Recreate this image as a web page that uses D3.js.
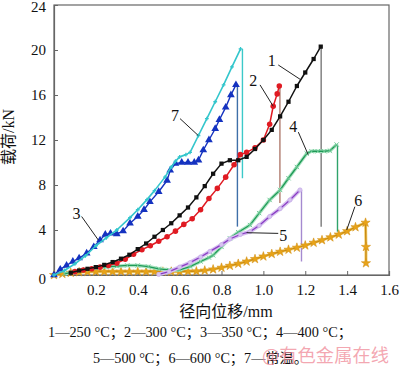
<!DOCTYPE html>
<html><head><meta charset="utf-8">
<script src="https://cdn.jsdelivr.net/npm/d3@7/dist/d3.min.js"></script>
<style>body{margin:0;background:#fff}svg{display:block}
.srf{font-family:"Liberation Serif","DejaVu Serif",serif}
.cjk{font-family:"Liberation Serif","Noto Sans CJK SC",serif}
</style>
</head><body>
<script>
// ---- data ----
const xTicks = [0.2,0.4,0.6,0.8,1.0,1.2,1.4,1.6];
const yTicks = [0,4,8,12,16,20,24];

// 1 — 250 °C (black squares)
const x1 = [0.08,0.12,0.16,0.2,0.24,0.28,0.32,0.36,0.4,0.44,0.48,0.52,0.56,0.6,0.64,0.68,0.72,0.76,0.8,0.84,0.88,0.92,0.96,1.0,1.04,1.08,1.12,1.16,1.2,1.24,1.274];
const y1 = [0.2,0.4,0.55,0.7,0.9,1.15,1.45,1.8,2.3,2.8,3.4,4.0,4.6,5.3,6.0,6.9,7.9,9.0,9.9,10.2,10.2,10.5,11.2,12.0,12.9,14.1,15.4,16.8,18.0,19.2,20.3];
// 2 — 300 °C (red circles)
const x2 = [0.1,0.14,0.18,0.22,0.26,0.3,0.34,0.38,0.42,0.46,0.5,0.54,0.58,0.62,0.66,0.7,0.74,0.78,0.82,0.86,0.89,0.92,0.96,1.0,1.03,1.047,1.066,1.076];
const y2 = [0.3,0.45,0.55,0.7,0.85,1.05,1.4,1.85,2.25,2.6,3.0,3.4,3.9,4.5,5.0,5.8,6.8,7.7,8.7,9.8,10.7,10.9,11.3,12.0,13.4,15.0,16.1,16.8];
// 3 — 350 °C (blue triangles)
const x3 = [0,0.03,0.06,0.09,0.12,0.156,0.19,0.22,0.245,0.27,0.3,0.33,0.363,0.4,0.43,0.458,0.5,0.54,0.555,0.58,0.61,0.64,0.67,0.69,0.713,0.74,0.77,0.79,0.82,0.845,0.869];
const y3 = [0,0.5,0.85,1.2,1.5,1.93,2.5,3.1,3.6,3.7,3.65,3.9,4.6,5.2,5.8,6.5,7.4,8.4,9.3,9.9,10.0,10.0,10.0,10.2,11.1,12.0,13.0,13.8,14.9,16.0,16.9];
// 4 — 400 °C (green)
const x4 = [0.05,0.1,0.15,0.2,0.25,0.3,0.35,0.4,0.45,0.5,0.55,0.6,0.65,0.7,0.74,0.76,0.8,0.84,0.88,0.936,0.98,1.03,1.08,1.12,1.16,1.207,1.23,1.26,1.29,1.318,1.35];
const y4 = [0.1,0.3,0.5,0.65,0.72,0.78,0.85,0.85,0.75,0.55,0.45,0.45,0.75,1.2,1.55,1.75,2.5,3.26,3.8,4.44,5.5,6.67,7.56,8.6,9.6,10.8,11.0,11.0,11.0,11.05,11.6];
// 5 — 500 °C (purple)
const x5 = [0.5,0.55,0.6,0.65,0.7,0.745,0.8,0.84,0.89,0.936,0.98,1.03,1.08,1.127,1.175];
const y5 = [0.05,0.3,0.7,1.1,1.6,2.1,2.7,3.2,3.6,3.85,4.4,5.2,5.9,6.67,7.56];
// 6 — 600 °C (orange stars)
const x6 = [0,0.04,0.08,0.12,0.16,0.2,0.24,0.28,0.32,0.36,0.4,0.44,0.48,0.52,0.56,0.6,0.64,0.68,0.72,0.76,0.8,0.84,0.88,0.92,0.96,1.0,1.04,1.08,1.12,1.16,1.2,1.24,1.28,1.32,1.36,1.4,1.44,1.488,1.49,1.49];
const y6 = [0,0.1,0.2,0.25,0.28,0.3,0.3,0.3,0.3,0.3,0.3,0.3,0.3,0.3,0.3,0.3,0.32,0.33,0.4,0.5,0.65,0.82,1.0,1.2,1.42,1.65,1.87,2.07,2.25,2.43,2.63,2.87,3.1,3.35,3.6,3.9,4.25,4.65,2.5,1.05];
// 7 — room temperature (cyan)
const x7 = [0,0.05,0.1,0.15,0.2,0.25,0.3,0.363,0.4,0.444,0.48,0.53,0.56,0.58,0.6,0.63,0.65,0.69,0.73,0.77,0.81,0.85,0.891];
const y7 = [0,0.4,1.0,1.7,2.6,3.3,4.0,5.1,5.8,6.7,7.5,8.7,9.6,10.1,10.5,10.7,10.9,12.4,13.9,15.4,16.9,18.5,20.1];

// fracture drops: x position and lowest load reached
const dropX   = [1.276, 1.079, 0.876, 1.354, 1.182, 0.9];
const dropTop = [20.3, 16.8, 16.9, 11.6, 7.56, 20.1];
const dropEnd = [4.3, 6.4, 4.3, 3.85, 1.2, 8.6];

const legendLine1 = "1—250 °C；2—300 °C；3—350 °C；4—400 °C；";
const legendLine2 = "5—500 °C；6—600 °C；7—常温。";
const xTitle = "径向位移/mm";
const yTitle = "载荷/kN";
const watermark = "@有色金属在线";
const curveLabels = ["1","2","3","4","5","6","7"];
// label text position and leader line (data coordinates)
const labelAt   = [[1.04,19.1],[0.952,17.3],[0.108,5.5],[1.143,13.2],[1.095,3.55],[1.453,6.67],[0.578,14.2]];
const leaderFrom= [[1.071,18.67],[0.984,16.9],[0.132,5.2],[1.167,12.7],[1.071,3.7],[1.437,6.07],[0.602,13.9]];
const leaderTo  = [[1.175,17.4],[1.047,15.0],[0.212,3.1],[1.214,10.7],[0.92,3.76],[1.398,4.0],[0.689,12.4]];

// ---- drawing ----
const W = 400, H = 369;
const L = 54, R = 389, T = 5, B = 275;

const svg = d3.select("body").append("svg").attr("width", W).attr("height", H);
const x = d3.scaleLinear().domain([0,1.6]).range([L,R]);
const y = d3.scaleLinear().domain([0,24]).range([B,T]);

// frame
svg.append("rect").attr("x",L).attr("y",T).attr("width",R-L).attr("height",B-T)
  .attr("fill","none").attr("stroke","#666").attr("stroke-width",1.2);

// axes with inward ticks
const gx = svg.append("g").attr("transform",`translate(0,${B})`)
  .call(d3.axisBottom(x).tickValues(xTicks).tickSize(-4).tickPadding(9).tickFormat(d3.format(".1f")));
const gy = svg.append("g").attr("transform",`translate(${L},0)`)
  .call(d3.axisLeft(y).tickValues(yTicks).tickSize(-4).tickPadding(8).tickFormat(d=>d));
[gx,gy].forEach(g=>{
  g.attr("font-family",null).attr("font-size",null);
  g.select(".domain").attr("stroke","#666").attr("stroke-width",1.2);
  g.selectAll(".tick line").attr("stroke","#666");
  g.selectAll("text").attr("class","srf").style("font-size","15px").attr("fill","#111");
});
gx.selectAll(".tick").filter(d=>d===1.6).select("line").remove();
gy.selectAll(".tick").filter(d=>d===0||d===24).select("line").remove();
gy.selectAll(".tick text").filter(d=>d===0).attr("dy","0.55em");
gy.selectAll(".tick text").filter(d=>d===24).attr("dy","0.45em");

const line = d3.line().x(d=>x(d[0])).y(d=>y(d[1]));
const zip = (a,b)=>a.map((v,i)=>[v,b[i]]);

// drop lines
const dropColors = ["#7a7a7a","#b07b6e","#3f6fa8","#2fa36b","#a58ad0","#3cc9c9"];
dropX.forEach((dx,i)=>{
  svg.append("line").attr("x1",x(dx)).attr("x2",x(dx)).attr("y1",y(dropTop[i])).attr("y2",y(dropEnd[i]))
    .attr("stroke",dropColors[i]).attr("stroke-width",1.4);
});

function series(xs, ys, o){
  const d = zip(xs,ys);
  if (o.halo) svg.append("path").attr("d",line(d)).attr("fill","none").attr("stroke",o.halo).attr("stroke-width",o.haloW||4).attr("stroke-linejoin","round");
  svg.append("path").attr("d",line(d)).attr("fill","none").attr("stroke",o.stroke).attr("stroke-width",o.w||1.4).attr("stroke-linejoin","round");
  if (o.symbol){
    svg.append("g").selectAll("path").data(d).join("path")
      .attr("transform",p=>`translate(${x(p[0])},${y(p[1])})`)
      .attr("d",d3.symbol().type(o.symbol).size(o.size))
      .attr("fill",o.fill).attr("stroke",o.mstroke||"none").attr("stroke-width",o.msw||1);
  }
}

series(x6,y6,{stroke:"#c98a12",w:1.4,halo:"#f3cf6a",haloW:3,symbol:d3.symbolStar,size:26,fill:"#e8a317",mstroke:"#d4921a",msw:0.6});
series(x4,y4,{stroke:"#1f9a57",w:1.3,halo:"#a8e3c0",haloW:3.5,symbol:d3.symbolTimes,size:14,fill:"none",mstroke:"#6cc995",msw:1});
series(x5,y5,{stroke:"#8a3cc4",w:1.3,halo:"#d6c0ef",haloW:4,symbol:d3.symbolCircle,size:14,fill:"#d8c4f0",mstroke:"#c0a5e6",msw:0.6});
series(x2,y2,{stroke:"#e01a22",w:1.5,symbol:d3.symbolCircle,size:24,fill:"#e01a22"});
series(x1,y1,{stroke:"#111",w:1.5,symbol:d3.symbolSquare,size:18,fill:"#111"});
series(x3,y3,{stroke:"#1432c0",w:1.4,symbol:d3.symbolTriangle,size:26,fill:"#1432c0"});
series(x7,y7,{stroke:"#33c6cc",w:1.6,symbol:d3.symbolCross,size:8,fill:"#33c6cc"});

// curve labels and leaders
curveLabels.forEach((t,i)=>{
  svg.append("line").attr("x1",x(leaderFrom[i][0])).attr("y1",y(leaderFrom[i][1]))
    .attr("x2",x(leaderTo[i][0])).attr("y2",y(leaderTo[i][1])).attr("stroke","#222").attr("stroke-width",1);
  svg.append("text").attr("class","srf").attr("x",x(labelAt[i][0])).attr("y",y(labelAt[i][1])).attr("dy","0.35em")
    .attr("text-anchor","middle").style("font-size","16px").attr("fill","#111").text(t);
});

// titles
svg.append("text").attr("class","cjk").attr("x",226).attr("y",317).attr("text-anchor","middle")
  .style("font-size","16px").attr("fill","#111").text(xTitle);
svg.append("text").attr("class","cjk").attr("transform","translate(14,137) rotate(-90)").attr("text-anchor","middle")
  .style("font-size","16px").attr("fill","#111").text(yTitle);

// legend
svg.append("text").attr("class","cjk").attr("x",48).attr("y",337).attr("textLength",304).attr("lengthAdjust","spacingAndGlyphs")
  .style("font-size","14px").attr("fill","#111").text(legendLine1);
svg.append("text").attr("class","cjk").attr("x",93).attr("y",363).attr("textLength",215).attr("lengthAdjust","spacingAndGlyphs")
  .style("font-size","14px").attr("fill","#111").text(legendLine2);
svg.append("text").attr("x",262).attr("y",362).attr("textLength",127).attr("lengthAdjust","spacingAndGlyphs")
  .style("font-family","'Noto Sans CJK SC',sans-serif").style("font-size","18px").attr("fill","#f08a98").attr("fill-opacity",0.75).text(watermark);
</script>
</body></html>
